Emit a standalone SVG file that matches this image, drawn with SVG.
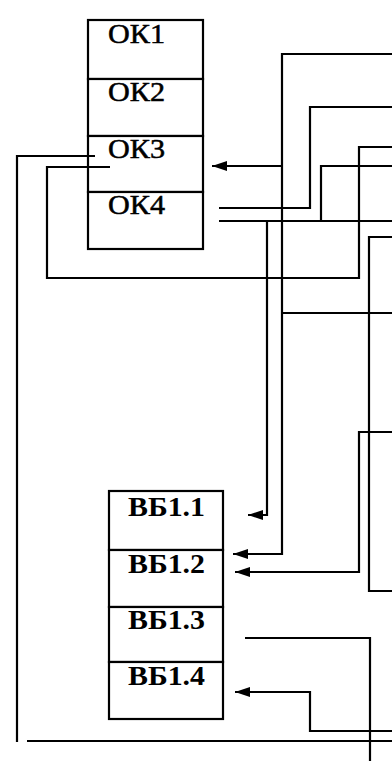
<svg xmlns="http://www.w3.org/2000/svg" width="392" height="761" viewBox="0 0 392 761">
<style>
.box{fill:#fff;stroke:#000;stroke-width:2.2}
.ln{fill:none;stroke:#000;stroke-width:2.2}
.ok{font-family:"Liberation Serif","Times New Roman",serif;font-size:27px;fill:#000;stroke:#000;stroke-width:0.5}
.vb{font-family:"Liberation Serif","Times New Roman",serif;font-size:27px;font-weight:bold;fill:#000}
</style>
<defs>
<marker id="arr" viewBox="0 0 15 10" refX="15" refY="5" markerWidth="15" markerHeight="10" markerUnits="userSpaceOnUse" orient="auto">
<path d="M0,0 L15,5 L0,10 z" fill="#000"/>
</marker>
</defs>
<rect width="392" height="761" fill="#fff"/>
<g id="ok1"><rect class="box" x="88" y="20" width="115" height="59"/><text class="ok" x="108" y="43" textLength="57" lengthAdjust="spacingAndGlyphs">ОК1</text></g>
<g id="ok2"><rect class="box" x="88" y="79" width="115" height="57"/><text class="ok" x="108" y="101" textLength="57" lengthAdjust="spacingAndGlyphs">ОК2</text></g>
<g id="ok3"><rect class="box" x="88" y="136" width="115" height="56"/><text class="ok" x="108" y="158" textLength="57" lengthAdjust="spacingAndGlyphs">ОК3</text></g>
<g id="ok4"><rect class="box" x="88" y="192" width="115" height="57"/><text class="ok" x="108" y="214" textLength="57" lengthAdjust="spacingAndGlyphs">ОК4</text></g>
<g id="vb1"><rect class="box" x="109" y="491" width="114" height="59"/><text class="vb" x="128" y="516" textLength="77" lengthAdjust="spacingAndGlyphs">ВБ1.1</text></g>
<g id="vb2"><rect class="box" x="109" y="550" width="114" height="57"/><text class="vb" x="128" y="573" textLength="77" lengthAdjust="spacingAndGlyphs">ВБ1.2</text></g>
<g id="vb3"><rect class="box" x="109" y="607" width="114" height="55"/><text class="vb" x="128" y="629" textLength="77" lengthAdjust="spacingAndGlyphs">ВБ1.3</text></g>
<g id="vb4"><rect class="box" x="109" y="662" width="114" height="57"/><text class="vb" x="128" y="685" textLength="77" lengthAdjust="spacingAndGlyphs">ВБ1.4</text></g>
<g id="connectors">
<path class="ln" d="M392,54 H282 V554 H233" marker-end="url(#arr)"/>
<path class="ln" d="M282,166 H212" marker-end="url(#arr)"/>
<path class="ln" d="M282,313 H392"/>
<path class="ln" d="M219,208 H310 V107 H392"/>
<path class="ln" d="M392,147 H359 V278 H47 V167 H110"/>
<path class="ln" d="M392,166 H321 V221"/>
<path class="ln" d="M219,221 H392"/>
<path class="ln" d="M267,221 V515 H248" marker-end="url(#arr)"/>
<path class="ln" d="M392,237 H369 V591 H392"/>
<path class="ln" d="M392,432 H359 V572 H235" marker-end="url(#arr)"/>
<path class="ln" d="M245,638 H370 V761"/>
<path class="ln" d="M392,731 H310 V692 H235" marker-end="url(#arr)"/>
<path class="ln" d="M27,741 H392"/>
<path class="ln" d="M95,156 H17 V742"/>
</g>
</svg>
